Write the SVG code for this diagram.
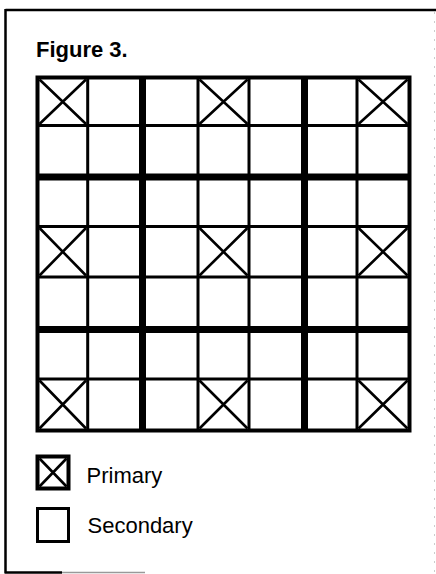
<svg xmlns="http://www.w3.org/2000/svg" width="436" height="574" viewBox="0 0 436 574">
<style>
.frame{stroke:#000;stroke-width:2.5;fill:none}
.thin{stroke:#000;stroke-width:3;fill:none}
.thick{stroke:#000;stroke-width:7;fill:none}
.border{stroke:#000;stroke-width:4;fill:none}
.x{stroke:#000;stroke-width:2.6;fill:none}
.lbl{font-family:"Liberation Sans",Arial,Helvetica,sans-serif;font-size:22px;fill:#000}
</style>
<rect width="436" height="574" fill="#fff"/>
<g id="frame">
<path class="frame" d="M5.5 10 L436 10 M5.5 9 L5.5 573 M4.5 572.5 L62 572.5"/>
<path d="M62 572.5 L145 572.5" stroke="#999" stroke-width="1.5"/>
<path d="M434.5 12 L434.5 574" stroke="#ccc" stroke-width="1" stroke-dasharray="2 7"/>
</g>
<g id="title">
<text class="lbl" x="36" y="57" font-weight="bold">Figure 3.</text>
</g>
<g id="grid">
<g id="thin-lines">
<path class="thin" d="M87.7 77.5 V430.5 M198 77.5 V430.5 M249 77.5 V430.5 M357 77.5 V430.5"/>
<path class="thin" d="M37.5 125.5 H409.5 M37.5 226.5 H409.5 M37.5 277 H409.5 M37.5 379 H409.5"/>
</g>
<g id="thick-lines">
<path class="thick" d="M142.5 77.5 V430.5 M304.5 77.5 V430.5"/>
<path class="thick" d="M37.5 177 H409.5 M37.5 329.5 H409.5"/>
</g>
<rect class="border" x="37.5" y="77.5" width="372" height="353"/>
<g id="primary-cells">
<path class="x" d="M39.5 79.5 L86 124 M86 79.5 L39.5 124"/>
<path class="x" d="M199.5 79.5 L247.5 124 M247.5 79.5 L199.5 124"/>
<path class="x" d="M358.5 79.5 L407.5 124 M407.5 79.5 L358.5 124"/>
<path class="x" d="M39.5 228 L86 275.5 M86 228 L39.5 275.5"/>
<path class="x" d="M199.5 228 L247.5 275.5 M247.5 228 L199.5 275.5"/>
<path class="x" d="M358.5 228 L407.5 275.5 M407.5 228 L358.5 275.5"/>
<path class="x" d="M39.5 380.5 L86 428.5 M86 380.5 L39.5 428.5"/>
<path class="x" d="M199.5 380.5 L247.5 428.5 M247.5 380.5 L199.5 428.5"/>
<path class="x" d="M358.5 380.5 L407.5 428.5 M407.5 380.5 L358.5 428.5"/>
</g>
</g>
<g id="legend-primary">
<rect x="37.5" y="456.5" width="31" height="32" fill="none" stroke="#000" stroke-width="4"/>
<path class="x" d="M39.5 458.5 L66.5 486.5 M66.5 458.5 L39.5 486.5"/>
<text class="lbl" x="86.5" y="482.5">Primary</text>
</g>
<g id="legend-secondary">
<rect x="37.5" y="508.5" width="31" height="33" fill="none" stroke="#000" stroke-width="3"/>
<text class="lbl" x="87.5" y="533">Secondary</text>
</g>
</svg>
